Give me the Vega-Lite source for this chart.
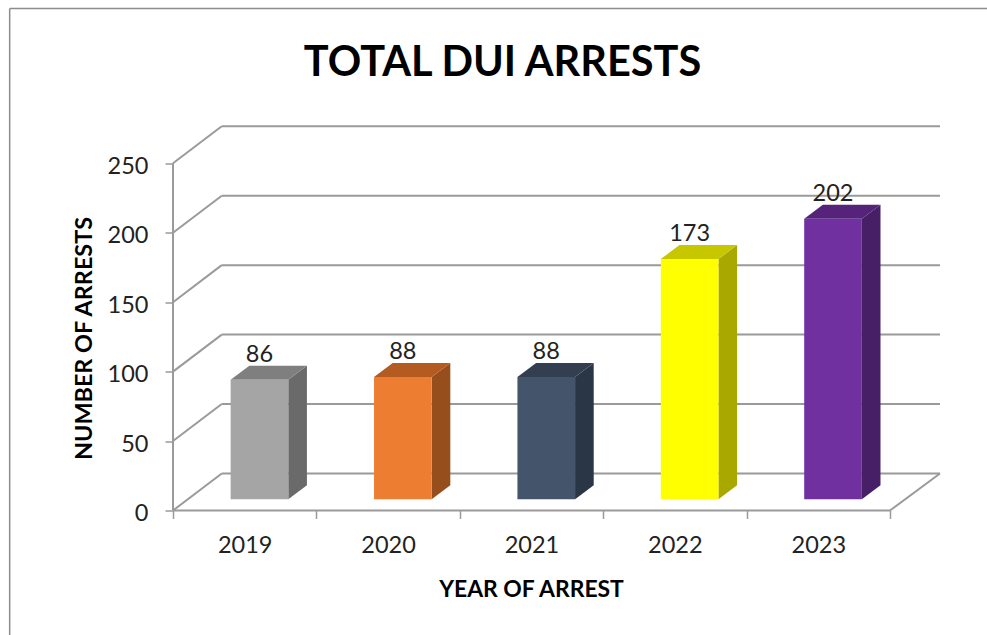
{
"$schema":"https://vega.github.io/schema/vega-lite/v6.json",
"width":767,"height":384,"autosize":"none",
"padding":{"left":173,"top":126.5,"right":47,"bottom":124.5},
"background":"white",
"config":{"view":{"stroke":null},"font":"Lato"},
"title":{"text":"TOTAL DUI ARRESTS","font":"Lato","fontSize":41.5,"fontWeight":"bold","color":"black","anchor":"middle","frame":"group","dx":-54,"offset":0,"dy":77},
"datasets":{
"bars":[{"year":"2019","arrests":86},{"year":"2020","arrests":88},{"year":"2021","arrests":88},{"year":"2022","arrests":173},{"year":"2023","arrests":202}],
"grid":[{"v":0},{"v":50},{"v":100},{"v":150},{"v":200},{"v":250}]
},
"layer":[
{"data":{"values":[{"a":1}]},"mark":{"type":"rule","stroke":"#9a9a9a","strokeWidth":2},
 "encoding":{
  "x":{"datum":0,"type":"quantitative","scale":{"domain":[0,5.349],"nice":false,"zero":false},
   "axis":{"values":[0,1,2,3,4,5],"labelExpr":"datum.value<5 ? ''+(2019+datum.value) : ''","labelOffset":71.7,"labelFontSize":23.5,"labelFont":"Lato","labelColor":"#222222","labelPadding":15,"tickSize":8,"tickColor":"#9a9a9a","tickWidth":1.5,"domain":false,"grid":false,"title":"YEAR OF ARREST","titleFont":"Lato","titleFontSize":22.9,"titleFontWeight":"bold","titleColor":"black","titleX":358,"titleY":68,"labelBound":false,"labelFlush":false,"labelOverlap":false}},
  "y":{"datum":0,"type":"quantitative","scale":{"domain":[0,276.5],"nice":false,"zero":false},
   "axis":{"values":[0,50,100,150,200,250],"labelFontSize":23.5,"labelFont":"Lato","labelColor":"#222222","labelPadding":17,"labelOffset":3,"tickSize":8,"tickColor":"#9a9a9a","tickWidth":1.5,"domain":false,"grid":false,"title":"NUMBER OF ARRESTS","titleFont":"Lato","titleFontSize":23.4,"titleFontWeight":"bold","titleColor":"black","titleX":-77,"titleY":211.5,"labelOverlap":false}},
  "y2":{"datum":250}}},
{"data":{"values":[{"a":1}]},"mark":{"type":"rule","stroke":"#8c8c8c","strokeWidth":1.5},
 "encoding":{"x":{"datum":-1.139,"type":"quantitative","scale":{"domain":[0,5.349],"nice":false,"zero":false}},"y":{"datum":361.5,"type":"quantitative","scale":{"domain":[0,276.5],"nice":false,"zero":false}},"y2":{"datum":-89.7}}},
{"data":{"values":[{"a":1}]},"mark":{"type":"rule","stroke":"#8c8c8c","strokeWidth":1.5},
 "encoding":{"x":{"datum":-1.139,"type":"quantitative","scale":{"domain":[0,5.349],"nice":false,"zero":false}},"x2":{"datum":5.68},"y":{"datum":361.5,"type":"quantitative","scale":{"domain":[0,276.5],"nice":false,"zero":false}}}},
{"data":{"name":"grid"},"transform":[{"calculate":"datum.v+26.66","as":"b"}],"mark":{"type":"rule","stroke":"#9a9a9a","strokeWidth":2},
 "encoding":{"x":{"datum":0,"type":"quantitative","scale":{"domain":[0,5.349],"nice":false,"zero":false}},"x2":{"datum":0.34},"y":{"field":"v","type":"quantitative","scale":{"domain":[0,276.5],"nice":false,"zero":false}},"y2":{"field":"b"}}},
{"data":{"name":"grid"},"transform":[{"calculate":"datum.v+26.66","as":"b"}],"mark":{"type":"rule","stroke":"#9a9a9a","strokeWidth":2},
 "encoding":{"x":{"datum":0.34,"type":"quantitative","scale":{"domain":[0,5.349],"nice":false,"zero":false}},"x2":{"datum":5.349},"y":{"field":"b","type":"quantitative","scale":{"domain":[0,276.5],"nice":false,"zero":false}}}},
{"data":{"values":[{"a":1}]},"mark":{"type":"rule","stroke":"#9a9a9a","strokeWidth":2},
 "encoding":{"x":{"datum":5,"type":"quantitative","scale":{"domain":[0,5.349],"nice":false,"zero":false}},"x2":{"datum":5.349},"y":{"datum":0,"type":"quantitative","scale":{"domain":[0,276.5],"nice":false,"zero":false}},"y2":{"datum":26.66}}},
{"data":{"values":[{"a":1}]},"mark":{"type":"rule","stroke":"#9a9a9a","strokeWidth":2},
 "encoding":{"x":{"datum":0,"type":"quantitative","scale":{"domain":[0,5.349],"nice":false,"zero":false}},"x2":{"datum":5},"y":{"datum":0,"type":"quantitative","scale":{"domain":[0,276.5],"nice":false,"zero":false}}}},
{"data":{"name":"bars"},
 "transform":[
  {"calculate":"toNumber(datum.year)-2019+0.804","as":"r"},
  {"calculate":"[datum.r,datum.r+0.13]","as":"sx"},
  {"calculate":"[8.07,18.17]","as":"slo"},
  {"calculate":"[datum.arrests+8.07,datum.arrests+18.17]","as":"shi"},
  {"flatten":["sx","slo","shi"]}],
 "mark":{"type":"area","interpolate":"linear"},
 "encoding":{"x":{"field":"sx","type":"quantitative","scale":{"domain":[0,5.349],"nice":false,"zero":false}},
  "y":{"field":"slo","type":"quantitative","scale":{"domain":[0,276.5],"nice":false,"zero":false}},"y2":{"field":"shi"},
  "color":{"field":"year","type":"nominal","legend":null,"scale":{"domain":["2019","2020","2021","2022","2023"],"range":["#6a6a6a","#964f1c","#2a3645","#a8a800","#461f66"]}}}},
{"data":{"name":"bars"},
 "transform":[
  {"calculate":"toNumber(datum.year)-2019+0.402","as":"l"},
  {"calculate":"datum.arrests+8.07","as":"t"},
  {"calculate":"[datum.l,datum.l+0.13,datum.l+0.402,datum.l+0.532]","as":"tx"},
  {"calculate":"[datum.t,datum.t,datum.t,datum.t+10.1]","as":"tlo"},
  {"calculate":"[datum.t,datum.t+10.1,datum.t+10.1,datum.t+10.1]","as":"thi"},
  {"flatten":["tx","tlo","thi"]}],
 "mark":{"type":"area","interpolate":"linear"},
 "encoding":{"x":{"field":"tx","type":"quantitative","scale":{"domain":[0,5.349],"nice":false,"zero":false}},
  "y":{"field":"tlo","type":"quantitative","scale":{"domain":[0,276.5],"nice":false,"zero":false}},"y2":{"field":"thi"},
  "color":{"field":"year","type":"nominal","legend":null,"scale":{"domain":["2019","2020","2021","2022","2023"],"range":["#7f7f7f","#b35b20","#333f50","#c7c700","#55247a"]}}}},
{"data":{"name":"bars"},
 "transform":[
  {"calculate":"toNumber(datum.year)-2019+0.402","as":"l"},
  {"calculate":"datum.l+0.402","as":"r"},
  {"calculate":"datum.arrests+8.07","as":"t"},
  {"calculate":"8.07","as":"floor"}],
 "mark":{"type":"rect"},
 "encoding":{"x":{"field":"l","type":"quantitative","scale":{"domain":[0,5.349],"nice":false,"zero":false}},"x2":{"field":"r"},
  "y":{"field":"floor","type":"quantitative","scale":{"domain":[0,276.5],"nice":false,"zero":false}},"y2":{"field":"t"},
  "color":{"field":"year","type":"nominal","legend":null,"scale":{"domain":["2019","2020","2021","2022","2023"],"range":["#a5a5a5","#ed7d31","#44546a","#ffff00","#7030a0"]}}}},
{"data":{"name":"bars"},
 "transform":[
  {"calculate":"toNumber(datum.year)-2019+0.603","as":"c"},
  {"calculate":"datum.arrests+8.07+13","as":"ly"}],
 "mark":{"type":"text","font":"Lato","fontSize":23.5,"color":"#222222","baseline":"alphabetic","align":"center"},
 "encoding":{"x":{"field":"c","type":"quantitative","scale":{"domain":[0,5.349],"nice":false,"zero":false}},
  "y":{"field":"ly","type":"quantitative","scale":{"domain":[0,276.5],"nice":false,"zero":false}},
  "text":{"field":"arrests","type":"quantitative"}}}
],
"resolve":{"scale":{"color":"independent"}}
}
